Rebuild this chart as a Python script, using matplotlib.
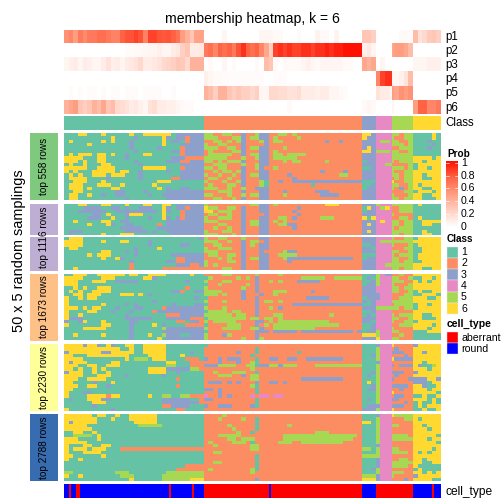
import numpy as np
import matplotlib
matplotlib.use('Agg')
import matplotlib.pyplot as plt
from matplotlib.colors import ListedColormap, LinearSegmentedColormap
from matplotlib.patches import Rectangle

plt.rcParams['font.family'] = ['Liberation Sans', 'DejaVu Sans']

class_colors = ['#66C2A5', '#FC8D62', '#8DA0CB', '#E78AC3', '#A6D854', '#FFD92F']
class_labels = ['1', '2', '3', '4', '5', '6']
class_sizes = [60, 68, 6, 7, 9, 12]
prob_ticks = [0, 0.2, 0.4, 0.6, 0.8, 1]
panel_names = ['top 558 rows', 'top 1116 rows', 'top 1673 rows', 'top 2230 rows', 'top 2788 rows']
panel_colors = ['#7FC97F', '#BEAED4', '#FDC086', '#FFFF99', '#386CB0']
row_names = ['p1', 'p2', 'p3', 'p4', 'p5', 'p6']

# membership, in percent, one value per read column block
p1 = [55,60,50,65,58,65,65,70,70,66,62,62,75,80,80,85,80,62,85,85,80,78,80,75,68,50,40,30,48,48,
      0,0,0,0,5,0,0,0,0,0,0,0,5,5,5,3,3,0,0,0,3,0,0,0,6,3,3,0,6,0,0,0,0,0,
      30,30,25, 0,0,0,0, 0,0,3,3,3, 35,15,20,28,30,25]
p2 = [0,0,0,0,0,0,0,0,0,0,0,0,0,2,2,3,3,4,5,5,8,5,5,10,12,25,30,10,10,12,
      65,70,60,75,70,75,65,80,90,75,70,75,60,45,25,85,90,85,90,85,85,90,90,85,90,90,95,90,95,95,100,100,100,100,
      8,12,5, 0,0,0,0, 45,50,50,45,35, 0,0,0,0,0,0]
p3 = [5,8,10,5,10,8,5,5,10,15,8,10,5,10,12,15,20,10,10,12,15,20,22,25,30,28,20,40,40,40,
      0,3,0,0,5,0,3,0,0,0,0,3,0,35,30,3,0,3,3,3,3,5,8,5,3,5,5,5,5,5,3,3,0,0,
      45,40,45, 0,5,0,0, 0,0,0,0,0, 5,5,5,8,8,8]
p4 = [0,0,0,0,0,0,0,0,0,0,0,0,0,0,0,0,0,0,0,0,0,0,0,0,0,0,0,0,0,0,
      8,5,3,3,2,2,2,2,2,2,2,2,2,0,0,2,2,2,0,0,0,0,0,0,0,0,0,0,0,0,0,0,0,0,
      0,0,0, 60,85,90,90, 5,5,8,15,35, 0,0,0,0,0,0]
p5 = [0,2,0,2,0,2,2,0,2,0,2,2,0,2,2,2,0,2,2,2,2,0,0,2,0,0,0,0,0,0,
      40,35,25,40,40,30,25,30,25,25,20,25,5,5,20,20,18,18,15,15,18,10,10,10,8,10,10,5,5,3,2,0,0,0,
      0,0,0, 15,10,10,5, 50,45,55,50,55, 0,0,0,0,0,0]
p6 = [40,45,50,30,25,30,40,35,45,30,35,20,18,15,10,12,8,5,15,18,10,10,8,8,5,3,2,2,0,0,
      0,0,0,0,0,0,0,0,0,0,0,0,0,0,0,0,0,0,3,0,0,0,0,0,0,0,0,0,0,0,0,0,0,0,
      3,5,3, 0,0,0,0, 5,0,0,0,0, 50,75,75,60,60,65]

# columns holding an "aberrant" cell, the others are "round"
aberrant_cols = [2, 5, 6, 45, 55] + list(range(60, 88)) + list(range(89, 128)) + list(range(134, 150)) + [158]

# class per cell, read row block by row block: class 1 | 2 | 3 | 4 | 5 | 6 columns
rows_558 = [
 "111661116111116116666661333333|5522552232253322552522222222222222|663|4444|55255|111161",
 "111111111161111311111631332333|5552225532553325222252222222222222|633|4444|52255|111161",
 "161111116161113111111613312333|2255252532225325522222222232232222|333|4554|55225|111311",
 "111116111111113111111611133333|5225522232222322222222222222222222|333|4444|55525|111131",
 "111111111111113111113111123333|5552255232553322252222222222222222|363|4444|22555|111311",
 "111111111111111311111113323333|2522225532223325222222222222222222|663|5554|55225|111111",
 "161666166161131116611111123333|2555552232553325525555222222222222|333|4444|55555|111111",
 "666611166111131111111113332222|5555522252253325555522222222222222|333|4444|55555|666616",
 "666161166111111311111133322333|5525255532223322252552222252222222|133|4444|52555|661666",
 "161161116611111131111111133333|2255522252253322222222222222222222|333|4455|22225|166666",
 "666661166661111116666611123333|5525522232253225222222222222222222|113|4444|55525|166166",
 "616111666661661131111131133333|2252552532223322222222222322223222|333|4444|52255|666666",
 "161611666166611131111111133333|5225225232553322223222222222255222|333|4444|55255|661666",
 "166661111311111131111112233333|2552252232223322222322222222222222|333|4444|25255|661166",
 "116661116111111111116661111111|5222522532225122322333333333333333|111|4444|62255|666666",
 "166611166611611111161111111111|2522255232225122222222212222222222|113|4444|55225|616666",
 "166616111166111111116131133111|5552252252233322222222222222222222|133|4444|52325|661166",
 "116611111113311113111133333333|2225552232223322232222223332222222|333|4444|22255|166616",
 "166116113113311111311333333333|5522252252553322252222222333322222|333|4444|52225|661166",
 "166111111111131111111133333333|2255225232223322222222222222222222|333|4444|55255|661116",
]
rows_1116 = [
 "111661116611161116611661333333|5222222222553325222222222266622222|333|5444|55555|161111",
 "111133331133131133311631332333|6552255232223322222232222222222222|163|4564|22555|111111",
 "111333333113333333331631123333|6625552232223322222322222222222222|133|4444|22555|111111",
 "111111331611136661111611123333|2552252232222322222232222222222222|333|4444|52222|111111",
 "111113331161131111311631323333|5225552232223322552322222555222222|616|4444|22552|161111",
 "116111116611331111111133333333|5552222232553325252222222222222222|333|4644|55255|116666",
 "111116111631133111112133333333|2225522232553322553322222222222222|363|4444|55255|116611",
 "111111111111333331113333333333|2252252232223322222322222222222222|333|4444|52555|111111",
 "133311111111133333131133333333|5222552232223322222222222222222222|363|4444|55555|116111",
 "131111116111666111111113333333|5552225232223322222222222222222222|333|4444|55255|116611",
 "166611111111111111111111111113|5225522252223322222222222222222222|333|4444|52255|166666",
 "666611116111661111311111111111|5552252232552322222222222222222222|333|4555|55555|666666",
 "666611111111111111311111133111|2255222232523322222222222222222222|113|4444|52225|166666",
 "166111111111111311116111111111|5225552232223322222222222222222222|331|4444|22255|116666",
 "111111116611131311111111111111|5552222232223222253322222222222222|333|4444|55225|116666",
 "111116166611111311111113333333|2552255232223322555522222222222222|111|4444|52555|166666",
 "111111116116311111111111223333|2225252232553322253333333333333322|133|4444|55225|166666",
 "111111111111113111111133223333|5222255232223322223222222222222222|333|4444|55255|116666",
 "111111111111112111111111333223|5252222232223322222222222222222222|333|4455|55555|666666",
 "116111111111112111111222222222|2222552232223322222222222222222222|333|4444|55255|661166",
]
rows_1673 = [
 "116661166666616611666611111611|2222552222252222522222222222222222|113|5433|22522|666666",
 "666611116661111116631111111111|1522222525232222222225555522555555|131|5444|55225|116616",
 "666111666113333311111111113111|5222552222232252522233333222222222|113|5444|55522|616166",
 "666111111111111111111111111111|1225222225232222222222222222222222|133|5444|52225|666666",
 "116161166611111111111111112111|5222222252232222222222222222222222|333|4444|55255|666666",
 "161611666611111111111113321133|5555222232232225552222232222222222|333|4444|55225|161166",
 "116616661111666161311111111111|5552522232223225222222222222222222|333|3444|22255|116661",
 "611616611111111111111111111131|1222222232232222222222333332222222|133|3444|22555|666116",
 "611111111111111111131111111111|5222522222232552522222222222222222|313|4444|55555|666666",
 "611111116111131311111113111133|1222222222232222222333333333333333|113|4444|25555|166166",
 "666161661113111331111233333333|5222522222232252322222222222222222|333|5555|55255|166666",
 "611116611131113111123333333333|1555525522232222222222222222222222|113|4444|22222|666666",
 "611611111111131111111122233333|5555552552232225522222222225222222|131|4444|52555|661166",
 "633311111111133333311133333222|1555555552552552522222222222222222|333|4444|55225|661116",
 "311361116111113311111111221332|5255555222233252555555555552222222|331|4444|52255|166666",
 "611111116611113111161311112222|1222255522232525555555555555522222|113|4444|22555|666616",
 "111166666111113111111533333333|5222555522553225555555552222222222|113|4444|52222|666166",
 "111111111111113111111333333333|1222222222233323333323333333333323|133|5444|55222|111666",
 "116111116111113111611533311333|5222352222232222222222222222222222|666|5444|22522|111111",
 "111111111111113111116133333333|5222222252235222222222222222222222|333|6444|55222|111111",
]
rows_2230 = [
 "666636631631166116666611111111|1222222222222222222222222222222222|111|3444|62222|366666",
 "666666666666116116666611111111|2222222222212222222222222222222222|111|5444|23222|666666",
 "366666663366666116666611111311|2222222322212222222212222222222222|111|5444|33322|663666",
 "661116666666661111666611161111|2222222222122222222222222222222222|113|5444|22232|666666",
 "666611111111161555166611112221|3223233322212233223322333333332222|111|5444|63333|666666",
 "636661111166111111111166111222|2223222322512222222222222222222222|111|3444|22222|661666",
 "666116611666111111111155111222|3335555225513355355522225555555555|111|5444|32333|631156",
 "661611616111111111666633333552|2222222222522222222222222222222222|111|5444|22222|666166",
 "366611611611111111666611311111|2252225552212222222222222222222222|113|5444|33322|366666",
 "666611166611131111111311111111|2225552232552222222222222222222222|131|5444|23222|666666",
 "666116666111111111111111211111|2222222222552222222223333333332222|111|5444|32223|333663",
 "661111311161111111111111111111|2333232322232233232222222222222222|161|5444|22222|333166",
 "666116611311111111111111211111|2222222222512222222222222222222222|113|5444|33332|663116",
 "661111111111111111111111111111|3323222222212222222222222222222222|133|5444|22322|666166",
 "611133111111111111111111111111|2223222222212222222222222222222222|111|5444|62222|666661",
 "611116666266111111611551155222|4223232222424424422222222222222222|111|5444|23322|116116",
 "131116663311111111111333333112|3322222222212222222222222222222222|131|5444|33222|666161",
 "111111666111111111111333333332|2222222222212222222222222222222222|111|5444|22232|161161",
 "111111311111111111111223333111|3223332222312222222222222222222222|133|3444|33322|161666",
 "611111111131111111111111221111|2222222222222222222222222222222222|333|5444|62222|116116",
]
rows_2788 = [
 "666666166116116666661111111111|2222522222222222222222222222222222|111|3444|65555|666666",
 "666666611161116666661111111111|2225222252212222222222222222222222|111|5444|22255|616666",
 "636666611111111666661111111111|2222222222212222222222222222222222|661|5444|22222|666666",
 "666661111111111155555111111111|2222252222212222225222222222222222|111|5444|55222|661666",
 "666666111111111111111111111111|2222225222212222222222222222222222|111|5444|22222|666166",
 "116611611111111111111111111111|2222222522122222222222225552222222|111|5444|22222|666666",
 "115555161111111111111111111111|2225555522222222255555555555555552|111|5444|55552|666661",
 "666111161111111111111111111111|2222255255522222255555555555555522|111|5444|55555|666166",
 "666661111111111111111111111111|2522225552122222555225555555552222|111|5444|22222|666661",
 "611166116611111111111111111111|2252222222552222222222222222222222|111|3444|22222|666666",
 "616661666111222222222222222222|2222222222552222222222222222222222|551|5444|55222|666616",
 "611166661111111111111111111111|2255222222222222222222222222222222|111|5444|55552|616166",
 "661111116111111111111111111111|2222222222212222222222222222222222|555|5444|22222|666666",
 "611611111111111111111111111111|2222222222212222222222222222222222|111|3444|22552|661666",
 "111111111111111111111111111111|2255222222212222222222222222222222|111|3444|55555|661166",
 "111111111111111111111111112222|2222222222212222222222222222222222|111|3444|55552|611111",
 "111111111111111111111111222222|2522222222512222222222222222222222|113|5444|22222|161111",
 "551111111115551111111155555555|2222222222522222222222222222222222|111|5444|55522|661616",
 "611611111111555111111555555555|2222222222222222222222222222222222|555|3444|52222|366666",
 "111111111111116111111555555666|2222222222232222222222222222222222|666|3444|22232|666611",
]

BLOCKS = [30, 34, 3, 4, 5, 6]
WIDTHS = [2] * 67 + [2, 2, 2, 1] + [1, 2, 2, 2, 2] + [2] * 6
PX = 504.0
X0, X1 = 64, 441


def px_axes(fig, x0, y0, x1, y1):
    ax = fig.add_axes([x0 / PX, 1 - y1 / PX, (x1 - x0) / PX, (y1 - y0) / PX])
    ax.axis('off')
    return ax


def parse_rows(rows):
    out = []
    for row in rows:
        cells = ''
        for seg, n in zip(row.split('|'), BLOCKS):
            cells += seg[:n].ljust(n, seg[-1])
        out.append([int(c) for c in cells])
    return np.repeat(np.array(out), WIDTHS, axis=1)


fig = plt.figure(figsize=(7, 7), dpi=72)
bg = fig.add_axes([0, 0, 1, 1])
bg.set_xlim(0, PX)
bg.set_ylim(PX, 0)
bg.axis('off')

class_cmap = ListedColormap(class_colors)
prob_cmap = LinearSegmentedColormap.from_list(
    'prob', [(0, '#FFFFFF'), (0.25, '#FFD0C2'), (0.5, '#FF9E81'), (0.75, '#FF6445'), (1, '#FF1000')])

# membership rows
memb = np.array([p1, p2, p3, p4, p5, p6]) / 100.0
memb = np.repeat(memb, WIDTHS, axis=1)
ax = px_axes(fig, X0, 30, X1, 114.5)
ax.imshow(memb, aspect='auto', interpolation='nearest', cmap=prob_cmap, vmin=0, vmax=1)
for i, name in enumerate(row_names):
    bg.text(445, 37 + i * 14.1, name, fontsize=11.5, va='center', ha='left')

# class row
class_row = np.repeat(np.arange(1, 7), class_sizes)[None, :]
ax = px_axes(fig, X0, 116, X1, 130)
ax.imshow(class_row, aspect='auto', interpolation='nearest', cmap=class_cmap, vmin=1, vmax=6)
bg.text(445, 123, 'Class', fontsize=11.5, va='center', ha='left')

# body panels
panels = [parse_rows(r) for r in [rows_558, rows_1116, rows_1673, rows_2230, rows_2788]]
boxes = [(133, 200), (203.5, 270.5), (273.5, 340.5), (344, 411), (414, 481)]
for i, (mat, box) in enumerate(zip(panels, boxes)):
    ax = px_axes(fig, X0, box[0], X1, box[1])
    ax.imshow(mat, aspect='auto', interpolation='nearest', cmap=class_cmap, vmin=1, vmax=6)
    bg.add_patch(Rectangle((30, box[0]), 28, box[1] - box[0], fc=panel_colors[i], ec='none'))
    bg.text(44, (box[0] + box[1]) / 2, panel_names[i], rotation=90, fontsize=10,
            ha='center', va='center', color='black')
# panel 2 is split by a thin white line
bg.set_zorder(2)
bg.patch.set_alpha(0)
bg.add_patch(Rectangle((30, 235.4), 28, 1.2, fc='white', ec='none'))
bg.add_patch(Rectangle((X0, 235.4), X1 - X0, 1.2, fc='white', ec='none'))

# cell type row
cell_type = np.zeros(sum(class_sizes), dtype=int)
cell_type[aberrant_cols] = 1
ax = px_axes(fig, X0, 484, X1, 498)
ax.imshow(cell_type[None, :], aspect='auto', interpolation='nearest',
          cmap=ListedColormap(['#0000FF', '#FF0000']), vmin=0, vmax=1)
bg.text(445, 492, 'cell_type', fontsize=12, va='center', ha='left')

bg.text(252, 19, 'membership heatmap, k = 6', fontsize=14, ha='center', va='center')
bg.text(19, 251, '50 x 5 random samplings', rotation=90, fontsize=14.5, ha='center', va='center')

# legends
bg.text(447, 154, 'Prob', fontsize=10, fontweight='bold', va='center')
ax = px_axes(fig, 446, 161, 458, 227)
ax.imshow(np.linspace(1, 0, 200)[:, None], aspect='auto', cmap=prob_cmap, vmin=0, vmax=1)
for t in prob_ticks:
    y = 226.5 - t * 63.5
    bg.text(461, y, '%g' % t, fontsize=10.5, va='center', ha='left')
    bg.plot([446, 449], [y, y], color='white', lw=0.6)
    bg.plot([455, 458], [y, y], color='white', lw=0.6)

bg.text(447, 239, 'Class', fontsize=10, fontweight='bold', va='center')
for i, lab in enumerate(class_labels):
    y = 246.5 + i * 11.3
    bg.add_patch(Rectangle((447, y), 11, 11.3, fc=class_colors[i], ec='#EEEEEE', lw=0.4))
    bg.text(461, y + 5.7, lab, fontsize=10.5, va='center', ha='left')

bg.text(447, 324, 'cell_type', fontsize=10.5, fontweight='bold', va='center')
for i, (lab, col) in enumerate([('aberrant', '#FF0000'), ('round', '#0000FF')]):
    y = 332 + i * 11.2
    bg.add_patch(Rectangle((447, y), 11, 11.2, fc=col, ec='#EEEEEE', lw=0.4))
    bg.text(461, y + 5.6, lab, fontsize=10.5, va='center', ha='left')

bg.set_xlim(0, PX)
bg.set_ylim(PX, 0)
fig.savefig('out.png', dpi=72)
